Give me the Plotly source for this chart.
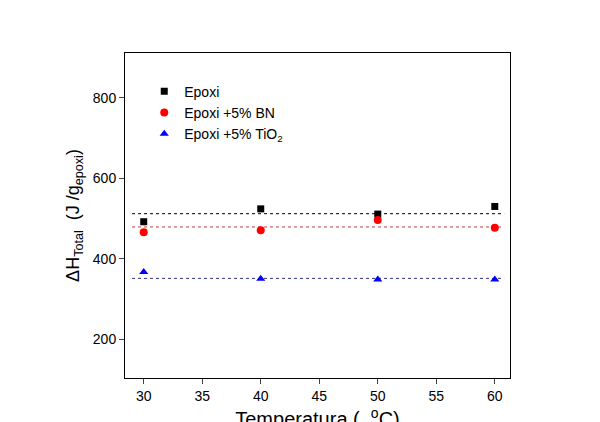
import plotly.graph_objects as go

temps = [30, 40, 50, 60]
epoxi = [492, 524, 511, 530]
epoxi_bn = [466, 471, 496, 477]
epoxi_tio2 = [367, 350, 348, 348]
mean_epoxi = 512
mean_bn = 479
mean_tio2 = 351

fig = go.Figure()
line_x = [29.0, 60.8]
for m, c in [(mean_epoxi, "black"), (mean_bn, "#c04040"), (mean_tio2, "#303080")]:
    fig.add_trace(go.Scatter(x=line_x, y=[m, m], mode="lines", showlegend=False,
                             line=dict(color=c, width=1, dash="dot")))
fig.add_trace(go.Scatter(x=temps, y=epoxi, mode="markers", name="Epoxi",
                         marker=dict(symbol="square", color="black", size=7)))
fig.add_trace(go.Scatter(x=temps, y=epoxi_bn, mode="markers", name="Epoxi +5% BN",
                         marker=dict(symbol="circle", color="red", size=8)))
fig.add_trace(go.Scatter(x=temps, y=epoxi_tio2, mode="markers", name="Epoxi +5% TiO<sub>2</sub>",
                         marker=dict(symbol="triangle-up", color="blue", size=8)))

axis = dict(showline=True, mirror=True, linecolor="black", linewidth=1, ticks="outside",
            showgrid=False, zeroline=False, automargin=False, tickfont=dict(size=14, color="black"))
fig.update_layout(
    width=600, height=422, plot_bgcolor="white", paper_bgcolor="white",
    font=dict(family="Liberation Sans, Arial", color="black"),
    margin=dict(l=117, r=98, t=45, b=52),
    xaxis=dict(axis, range=[28.4, 61.3], tickvals=[30, 35, 40, 45, 50, 55, 60],
               title=dict(text="Temperatura (  <sup>o</sup>C)", font=dict(size=20), standoff=10)),
    yaxis=dict(axis, range=[103, 912], tickvals=[200, 400, 600, 800],
               title=dict(text="ΔH<sub>Total</sub>  (J /g<sub>epoxi</sub>)", font=dict(size=18), standoff=8)),
    legend=dict(x=0.05, y=0.93, bgcolor="rgba(0,0,0,0)", font=dict(size=14)),
)
fig.write_html("out.html")
